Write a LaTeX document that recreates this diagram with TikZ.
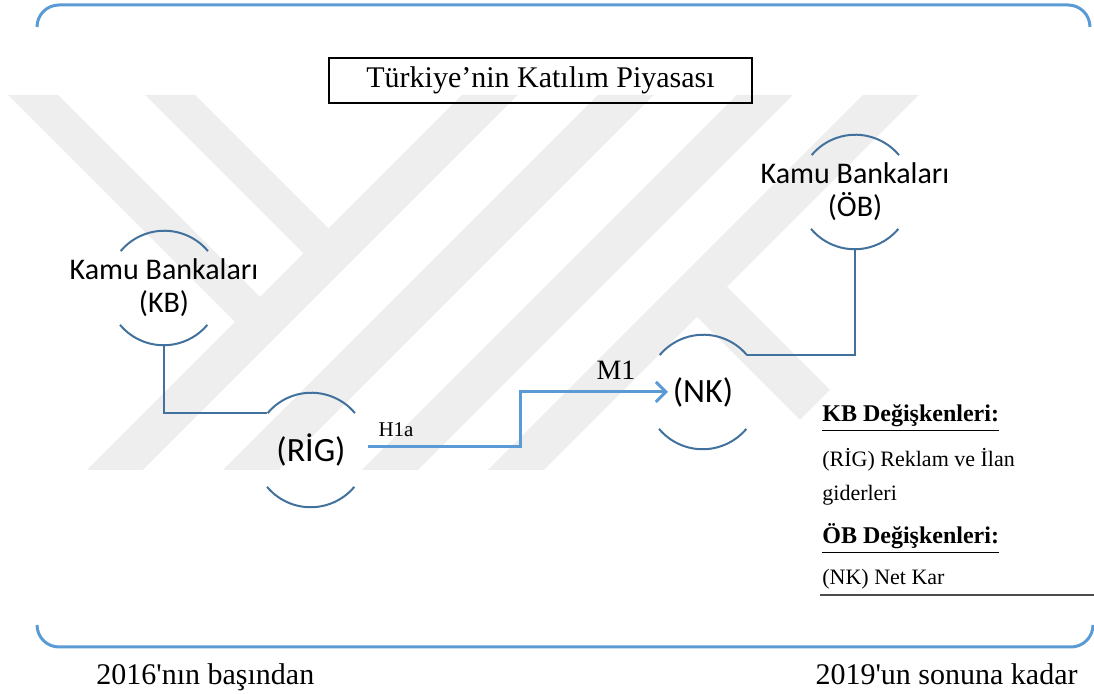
\documentclass[tikz,border=0pt]{standalone}
\usepackage{fontspec}
\setmainfont{Liberation Serif}[Ligatures=TeXOff]
\newfontfamily\calibri{Carlito}
\usetikzlibrary{arrows.meta}

\definecolor{frameblue}{RGB}{91,155,213}
\definecolor{ringblue}{RGB}{65,113,156}
\definecolor{markgray}{RGB}{238,238,238}

\tikzset{
  ring/.style = {circle, minimum size=57pt, inner sep=0pt},
  ringtext/.style = {font=\calibri\fontsize{17}{20}\selectfont, align=center},
  banktext/.style = {font=\calibri\fontsize{15}{16.5}\selectfont, align=center},
  link/.style = {draw=ringblue, line width=1pt},
  flow/.style = {draw=frameblue, line width=1.5pt, -{Straight Barb[length=5pt,width=10pt,line width=1.5pt]}},
  legend/.style = {anchor=base west, inner sep=0pt, font=\fontsize{11}{13}\selectfont},
  legendhead/.style = {legend, font=\bfseries\fontsize{12}{14}\selectfont},
}

\newcommand{\ringarcs}[1]{%
  \draw[link] (#1.40) arc[start angle=40, end angle=140, radius=28.5pt];
  \draw[link] (#1.220) arc[start angle=220, end angle=320, radius=28.5pt];}

\begin{document}
\begin{tikzpicture}[x=0.5pt, y=0.5pt]
\useasboundingbox (0,0) rectangle (1094,694);

% watermark
\foreach \a in {87,223,362,488}
  \fill[markgray] (\a,224) -- ++(56,0) -- ++(375,375) -- ++(-56,0) -- cycle;
\fill[markgray] (8,599) -- (58,599) -- (260,397) -- (235,372) -- cycle;
\fill[markgray] (145,599) -- (195,599) -- (328.5,465.5) -- (303.5,440.5) -- cycle;
\fill[markgray] (697,377) -- (727,407) -- (830,304) -- (800,274) -- cycle;

% frame
\draw[frameblue, line width=1.5pt] (37,667) arc[start angle=180, end angle=90, radius=11pt]
  -- (1068,689) arc[start angle=90, end angle=0, radius=11pt];
\draw[frameblue, line width=1.5pt] (37,69) arc[start angle=180, end angle=270, radius=11pt]
  -- (1071,47) arc[start angle=270, end angle=360, radius=11pt];

\node[draw, line width=0.75pt, minimum width=211.5pt, minimum height=22.5pt,
  font=\fontsize{15}{18}\selectfont] (title) at (540.5,613.5) {Türkiye’nin Katılım Piyasası};

% rings
\node[ring, label={[banktext]center:Kamu Bankaları\\(KB)}] (kb) at (164,406) {};
\node[ring, label={[ringtext]center:(RİG)}] (rig) at (311,244) {};
\node[ring, label={[ringtext]center:(NK)}] (nk) at (703,302) {};
\node[ring, label={[banktext]center:Kamu Bankaları\\(ÖB)}] (ob) at (855,502) {};
\ringarcs{kb}
\ringarcs{rig}
\ringarcs{nk}
\ringarcs{ob}

\draw[link] (kb.south) |- (rig.140);
\draw[link] (ob.south) |- (nk.40);

\coordinate (nkin) at ([xshift=-17.5pt]nk.center);
\draw[flow] ([yshift=1.5pt]rig.east) -- ++(152,0) |- (nkin);
\node[font=\fontsize{10.5}{12}\selectfont] (h1a) at (396,264) {H1a};
\node[font=\fontsize{14}{16}\selectfont] (m1) at (616,324) {M1};

% legend
\node[legendhead] (kbvar) at (822,272) {\underline{KB Değişkenleri:}};
\node[legend] (rigdef) at (822,227) {(RİG) Reklam ve İlan};
\node[legend] (rigdef2) at (822,193) {giderleri};
\node[legendhead] (obvar) at (822,150) {\underline{ÖB Değişkenleri:}};
\node[legend] (nkdef) at (822,109) {(NK) Net Kar};
\draw[black!70, line width=1pt] (820,99) -- (1094,99);

\node[anchor=base west, inner sep=0pt, font=\fontsize{15}{18}\selectfont] (start) at (96,9) {2016'nın başından};
\node[anchor=base east, inner sep=0pt, font=\fontsize{15}{18}\selectfont] (end) at (1078,9) {2019'un sonuna kadar};
\end{tikzpicture}
\end{document}
